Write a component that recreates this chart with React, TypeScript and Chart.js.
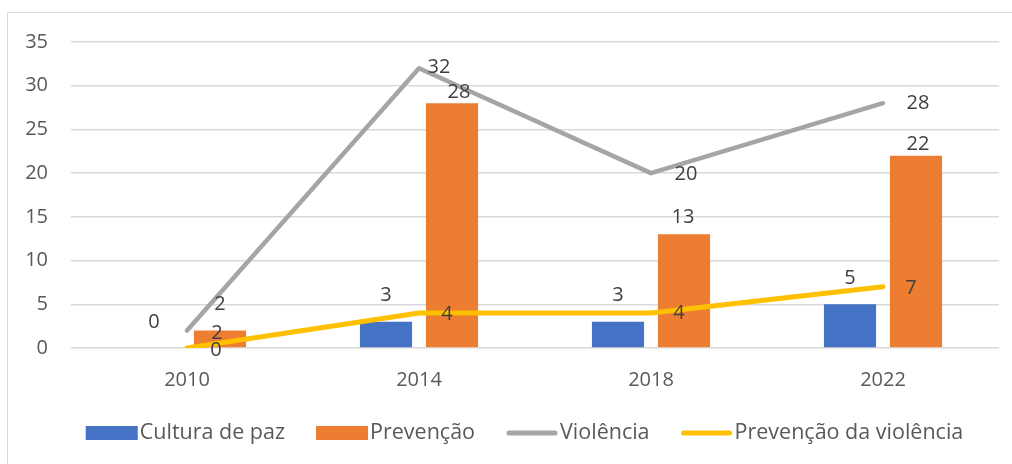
import React, { useEffect, useRef } from "react";
import { Chart, registerables } from "chart.js";

Chart.register(...registerables);

const categories = ["2010", "2014", "2018", "2022"];
const culturaDePaz = [0, 3, 3, 5];
const prevencao = [2, 28, 13, 22];
const violencia = [2, 32, 20, 28];
const prevencaoViolencia = [0, 4, 4, 7];
const yTicks = [0, 5, 10, 15, 20, 25, 30, 35];

const FONT = "'Open Sans', 'Liberation Sans', sans-serif";

// label offsets (layout only), per dataset per point
const labelOffsets: number[][][] = [
  [[0, -26], [0, -26], [0, -26], [0, -26]],
  [[-3, 3], [7, -11], [-1, -17], [2, -11]],
  [[33, -26], [20, -1], [35, 1], [35, 0]],
  [[29, 2], [28, 1], [28, 0], [28, 1]],
];

const framePlugin = {
  id: "frame",
  beforeDraw(chart: any) {
    const ctx = chart.ctx;
    ctx.save();
    ctx.fillStyle = "#ffffff";
    ctx.fillRect(0, 0, chart.width, chart.height);
    ctx.strokeStyle = "#d9d9d9";
    ctx.lineWidth = 1;
    ctx.strokeRect(7.5, 12.5, chart.width + 20, chart.height + 20);
    ctx.restore();
  },
};

const labelPlugin = {
  id: "valueLabels",
  afterDatasetsDraw(chart: any) {
    const ctx = chart.ctx;
    ctx.save();
    ctx.font = `20px ${FONT}`;
    ctx.fillStyle = "#404040";
    ctx.textAlign = "center";
    ctx.textBaseline = "middle";
    chart.data.datasets.forEach((ds: any, di: number) => {
      const meta = chart.getDatasetMeta(di);
      meta.data.forEach((el: any, i: number) => {
        const off = labelOffsets[di][i];
        ctx.fillText(String(ds.data[i]), el.x + off[0], el.y + off[1]);
      });
    });
    ctx.restore();
  },
};

const legendPlugin = {
  id: "customLegend",
  afterDraw(chart: any) {
    const ctx = chart.ctx;
    const boxW = 52;
    const boxH = 14;
    const textGap = 2;
    const itemGap = 31;
    const cy = 433;
    ctx.save();
    ctx.font = `21.5px ${FONT}`;
    ctx.textBaseline = "middle";
    ctx.textAlign = "left";
    const items = chart.data.datasets.map((ds: any) => ({
      ds,
      w: ctx.measureText(ds.label).width,
    }));
    const total =
      items.reduce((s: number, it: any) => s + boxW + textGap + it.w, 0) +
      itemGap * (items.length - 1);
    let x = 524.5 - total / 2;
    items.forEach((it: any) => {
      const ds = it.ds;
      if (ds.type === "line") {
        ctx.strokeStyle = ds.borderColor;
        ctx.lineWidth = 5;
        ctx.lineCap = "round";
        ctx.beginPath();
        ctx.moveTo(x + 3, cy);
        ctx.lineTo(x + boxW - 3, cy);
        ctx.stroke();
      } else {
        ctx.fillStyle = ds.backgroundColor;
        ctx.fillRect(x, cy - boxH / 2, boxW, boxH);
      }
      x += boxW + textGap;
      ctx.fillStyle = "#595959";
      ctx.fillText(ds.label, x, cy);
      x += it.w + itemGap;
    });
    ctx.restore();
  },
};

export default function App() {
  const ref = useRef<HTMLCanvasElement>(null);
  useEffect(() => {
    if (!ref.current) return;
    const chart = new Chart(ref.current, {
      type: "bar",
      data: {
        labels: categories,
        datasets: [
          {
            type: "bar",
            label: "Cultura de paz",
            data: culturaDePaz,
            backgroundColor: "#4472C4",
            categoryPercentage: 0.569,
            barPercentage: 0.79,
            order: 2,
          },
          {
            type: "bar",
            label: "Prevenção",
            data: prevencao,
            backgroundColor: "#ED7D31",
            categoryPercentage: 0.569,
            barPercentage: 0.79,
            order: 2,
          },
          {
            type: "line",
            label: "Violência",
            data: violencia,
            borderColor: "#A5A5A5",
            backgroundColor: "#A5A5A5",
            borderWidth: 4.5,
            borderCapStyle: "round",
            borderJoinStyle: "round",
            pointRadius: 0,
            order: 1,
          },
          {
            type: "line",
            label: "Prevenção da violência",
            data: prevencaoViolencia,
            borderColor: "#FFC000",
            backgroundColor: "#FFC000",
            borderWidth: 5,
            borderCapStyle: "round",
            borderJoinStyle: "round",
            pointRadius: 0,
            order: 1,
          },
        ] as any,
      },
      options: {
        animation: false,
        responsive: false,
        maintainAspectRatio: false,
        layout: { padding: { left: 0, top: 42, right: 13, bottom: 64 } },
        scales: {
          x: {
            grid: { display: false },
            border: { display: false },
            ticks: { color: "#595959", font: { family: FONT, size: 20 }, padding: 12 },
            afterFit: (s: any) => {
              s.height = 52;
            },
          },
          y: {
            min: 0,
            max: 35,
            afterBuildTicks: (s: any) => {
              s.ticks = yTicks.map((v) => ({ value: v }));
            },
            grid: { color: "#d9d9d9", lineWidth: 1.5, drawTicks: false },
            border: { display: false },
            ticks: { color: "#595959", font: { family: FONT, size: 20 }, padding: 23 },
            afterFit: (s: any) => {
              s.width = 71;
            },
          },
        },
        plugins: {
          tooltip: { enabled: false },
          legend: { display: false },
        },
      },
      plugins: [framePlugin, labelPlugin, legendPlugin],
    });
    return () => chart.destroy();
  }, []);
  return (
    <div style={{ position: "absolute", left: 0, top: 0, width: 1012, height: 464 }}>
      <canvas ref={ref} width={1012} height={464} style={{ width: 1012, height: 464 }} />
    </div>
  );
}
